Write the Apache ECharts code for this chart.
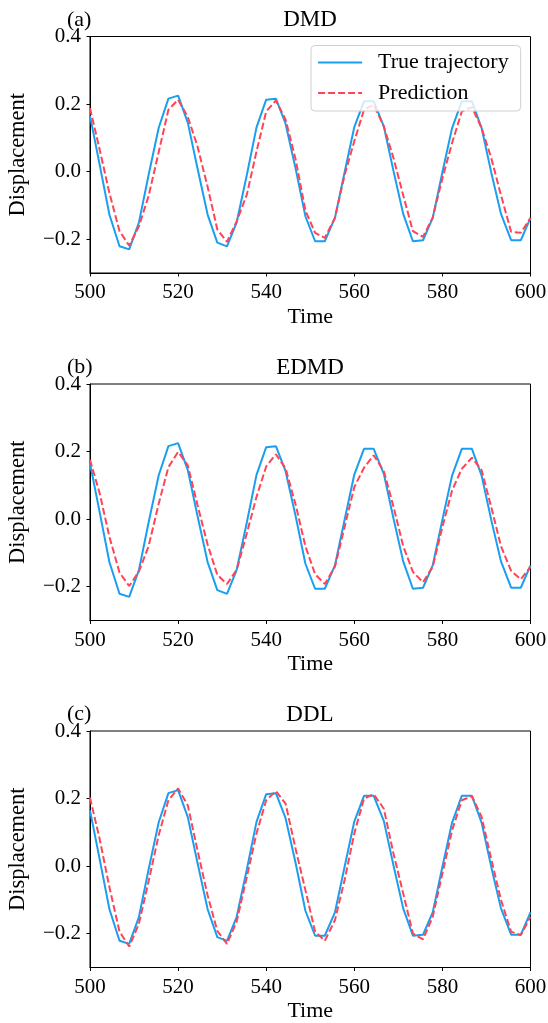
<!DOCTYPE html>
<html>
<head>
<meta charset="utf-8">
<script src="https://cdn.jsdelivr.net/npm/echarts@6/dist/echarts.min.js"></script>
<style>
html,body{margin:0;padding:0;background:#fff;}
#chart{width:548px;height:1023px;}
</style>
</head>
<body>
<div id="chart"></div>
<script>
// ---- data ----
const times = [500.0,502.2,504.4,506.7,508.9,511.1,513.3,515.6,517.8,520.0,
  522.2,524.4,526.7,528.9,531.1,533.3,535.6,537.8,540.0,542.2,
  544.4,546.7,548.9,551.1,553.3,555.6,557.8,560.0,562.2,564.4,
  566.7,568.9,571.1,573.3,575.6,577.8,580.0,582.2,584.4,586.7,
  588.9,591.1,593.3,595.6,597.8,600.0];

const trueTrajectory = [0.165,0.020,-0.127,-0.221,-0.230,-0.151,-0.010,0.130,0.216,0.225,
  0.145,0.010,-0.127,-0.210,-0.221,-0.150,-0.010,0.131,0.213,0.216,
  0.142,0.008,-0.132,-0.206,-0.206,-0.137,-0.002,0.132,0.208,0.208,
  0.134,0.002,-0.125,-0.206,-0.203,-0.137,-0.002,0.129,0.208,0.208,
  0.129,-0.003,-0.125,-0.203,-0.203,-0.137];

const predDMD = [0.188,0.065,-0.063,-0.176,-0.219,-0.162,-0.072,0.058,0.183,0.213,
  0.162,0.075,-0.045,-0.171,-0.208,-0.147,-0.068,0.060,0.178,0.211,
  0.154,0.035,-0.115,-0.181,-0.196,-0.137,-0.010,0.090,0.183,0.198,
  0.134,0.040,-0.070,-0.176,-0.193,-0.136,-0.020,0.085,0.178,0.191,
  0.129,0.040,-0.070,-0.178,-0.181,-0.137];

const predEDMD = [0.176,0.076,-0.052,-0.158,-0.198,-0.155,-0.080,0.046,0.154,0.199,
  0.159,0.042,-0.075,-0.165,-0.192,-0.150,-0.042,0.066,0.156,0.192,
  0.150,0.042,-0.080,-0.163,-0.192,-0.141,-0.023,0.095,0.152,0.189,
  0.142,0.037,-0.080,-0.156,-0.187,-0.141,-0.023,0.085,0.149,0.182,
  0.145,0.035,-0.080,-0.153,-0.178,-0.141];

const predDDL = [0.203,0.080,-0.062,-0.194,-0.238,-0.171,-0.045,0.092,0.195,0.230,
  0.180,0.047,-0.086,-0.192,-0.230,-0.164,-0.032,0.097,0.195,0.222,
  0.185,0.050,-0.071,-0.194,-0.221,-0.160,-0.041,0.097,0.200,0.213,
  0.170,0.037,-0.081,-0.199,-0.217,-0.150,-0.022,0.106,0.195,0.207,
  0.146,0.020,-0.100,-0.194,-0.204,-0.150];

const panelTitles = ['DMD','EDMD','DDL'];
const panelTags = ['(a)','(b)','(c)'];
const predictions = [predDMD, predEDMD, predDDL];
const xTicks = [500,520,540,560,580,600];
const yTicks = [-0.2,0.0,0.2,0.4];
const seriesNames = ['True trajectory','Prediction'];

// ---- layout/style ----
const FONT = 'Liberation Serif';
const FS = 21;
const BLUE = '#1a9ff0';
const RED = '#ff4455';
const gridTops = [36.5, 384, 731];
const gridH = 236.5;

const pair = (ys) => times.map((t,i)=>[t, ys[i]]);

const grids=[], xAxes=[], yAxes=[], series=[], graphics=[];
gridTops.forEach((top,i)=>{
  grids.push({left:90, top:top, width:440.5, height:gridH, show:true,
    containLabel:false, outerBoundsMode:'none',
    borderColor:'#000', borderWidth:1, backgroundColor:'transparent'});
  xAxes.push({type:'value', gridIndex:i, min:500, max:600, interval:20,
    name:'Time', nameLocation:'middle', nameGap:33,
    nameTextStyle:{fontFamily:FONT, fontSize:22, color:'#000'},
    axisLine:{show:true, onZero:false, lineStyle:{color:'#000', width:1}},
    axisTick:{show:true, length:3.5, lineStyle:{color:'#000'}, customValues:xTicks},
    axisLabel:{fontFamily:FONT, fontSize:FS, color:'#000', margin:9, customValues:xTicks},
    splitLine:{show:false}});
  yAxes.push({type:'value', gridIndex:i, min:-0.3, max:0.4,
    name:'Displacement', nameLocation:'middle', nameGap:60,
    nameTextStyle:{fontFamily:FONT, fontSize:22.5, color:'#000'},
    axisLine:{show:true, onZero:false, lineStyle:{color:'#000', width:1}},
    axisTick:{show:true, length:3.5, lineStyle:{color:'#000'}, customValues:yTicks},
    axisLabel:{fontFamily:FONT, fontSize:FS, color:'#000', margin:9, customValues:yTicks,
      formatter:(v)=> (v<0?'\u2212':'') + Math.abs(v).toFixed(1)},
    splitLine:{show:false}});
  series.push({name:seriesNames[0], type:'line', xAxisIndex:i, yAxisIndex:i,
    data:pair(trueTrajectory), symbol:'none', showSymbol:false, z:2,
    lineStyle:{color:BLUE, width:2}, itemStyle:{color:BLUE}, animation:false});
  series.push({name:seriesNames[1], type:'line', xAxisIndex:i, yAxisIndex:i,
    data:pair(predictions[i]), symbol:'none', showSymbol:false, z:3,
    lineStyle:{color:RED, width:2, type:[7,3]}, itemStyle:{color:RED}, animation:false});
  const ty = top - 16.5;
  graphics.push({type:'text', x:67, y:ty, style:{text:panelTags[i], font:'22px "'+FONT+'"', fill:'#000', textVerticalAlign:'middle'}});
  graphics.push({type:'text', x:310, y:ty, style:{text:panelTitles[i], font:'23px "'+FONT+'"', fill:'#000', textAlign:'center', textVerticalAlign:'middle'}});
});

const chart = echarts.init(document.getElementById('chart'), null, {renderer:'canvas'});
chart.setOption({
  animation:false,
  backgroundColor:'#fff',
  grid:grids, xAxis:xAxes, yAxis:yAxes, series:series,
  graphic:graphics,
  legend:{show:true, data:seriesNames, orient:'vertical', left:311, top:45.5,
    itemWidth:44, itemHeight:14, itemGap:8.5, padding:[6,12,7,6],
    itemStyle:{opacity:0},
    lineStyle:{width:2.2},
    backgroundColor:'rgba(255,255,255,0.8)', borderColor:'#d0d0d0', borderWidth:1, borderRadius:4,
    textStyle:{fontFamily:FONT, fontSize:22, color:'#000', lineHeight:21, padding:[0,0,0,11]},
    selectedMode:false}
});
</script>
</body>
</html>
